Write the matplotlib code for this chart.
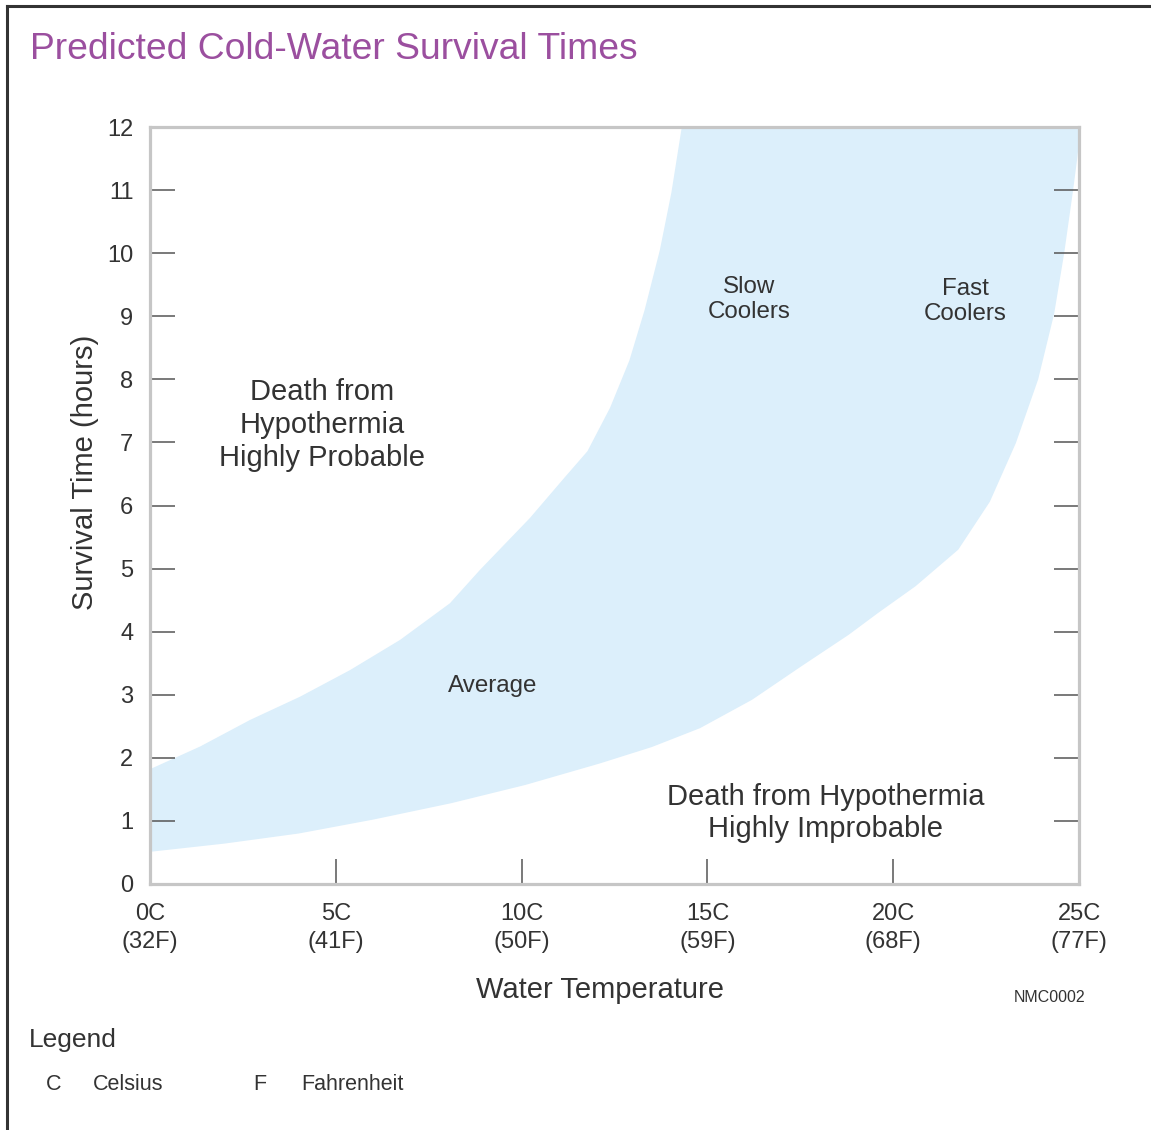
import matplotlib
matplotlib.use("Agg")
import matplotlib.pyplot as plt
from matplotlib.lines import Line2D

plt.rcParams['font.family'] = ['Liberation Sans', 'DejaVu Sans']

# boundary: water temperature (C) vs survival time (hours)
slow_temp = [0, 1.35, 2.69, 4.04, 5.38, 6.73, 8.07, 8.88, 10.22, 11.15, 11.77,
             12.38, 12.90, 13.31, 13.72, 14.03, 14.31]
slow_hours = [1.82, 2.18, 2.60, 2.97, 3.39, 3.87, 4.45, 4.98, 5.80, 6.44, 6.86,
              7.55, 8.30, 9.10, 10.05, 10.96, 12.0]
fast_temp = [0, 2.0, 4.0, 6.0, 8.1, 10.1, 12.1, 13.5, 14.8, 16.2, 17.5, 18.8, 19.6,
             20.6, 21.75, 22.6, 23.3, 23.9, 24.33, 24.6, 24.84, 24.95, 25.0]
fast_hours = [0.51, 0.64, 0.80, 1.02, 1.28, 1.57, 1.91, 2.17, 2.47, 2.92, 3.44, 3.95, 4.30,
              4.72, 5.30, 6.06, 6.99, 8.0, 9.04, 10.0, 11.0, 11.5, 11.75]

x_ticks = [0, 5, 10, 15, 20, 25]
x_labels = ["0C\n(32F)", "5C\n(41F)", "10C\n(50F)", "15C\n(59F)", "20C\n(68F)", "25C\n(77F)"]
y_ticks = list(range(0, 13))

text_col = '#333333'
band_col = '#DCEFFB'
spine_col = '#C6C6C6'
tick_col = '#555555'

fig = plt.figure(figsize=(11.51, 11.30), dpi=100)
ax = fig.add_axes([0.1303, 0.2177, 0.8072, 0.6699])

# band: slow coolers on top, across the top edge, back down along fast coolers
poly_x = slow_temp + [25.0] + fast_temp[::-1]
poly_y = slow_hours + [12.0] + fast_hours[::-1]
ax.fill(poly_x, poly_y, color=band_col, lw=0, zorder=1)

ax.set_xlim(0, 25)
ax.set_ylim(0, 12)

for s in ax.spines.values():
    s.set_color(spine_col)
    s.set_linewidth(2.3)
    s.set_zorder(3)

ax.set_xticks(x_ticks)
ax.set_xticklabels(x_labels, fontsize=17, color=text_col, linespacing=1.3)
ax.set_yticks(y_ticks)
ax.set_yticklabels([str(v) for v in y_ticks], fontsize=17, color=text_col)
ax.tick_params(axis='x', direction='in', length=18, width=1.1, color=tick_col,
               labelcolor=text_col, pad=14)
ax.tick_params(axis='y', direction='in', length=18, width=1.1, color=tick_col,
               labelcolor=text_col, pad=12, left=True, right=True)

# no marks at the ends of either axis
for t in (ax.xaxis.get_major_ticks()[0], ax.xaxis.get_major_ticks()[-1]):
    t.tick1line.set_visible(False)
for t in (ax.yaxis.get_major_ticks()[0], ax.yaxis.get_major_ticks()[-1]):
    t.tick1line.set_visible(False)
    t.tick2line.set_visible(False)

ax.set_xlabel("Water Temperature", fontsize=21, color=text_col, labelpad=17)
ax.xaxis.label.set_x(0.484)
ax.set_ylabel("Survival Time (hours)", fontsize=21, color=text_col, labelpad=6)
ax.yaxis.label.set_y(0.544)

ax.text(4.63, 7.28, "Death from\nHypothermia\nHighly Probable", fontsize=21, color=text_col,
        ha='center', va='center', linespacing=1.22)
ax.text(9.23, 3.14, "Average", fontsize=17.4, color=text_col, ha='center', va='center')
ax.text(16.12, 9.26, "Slow\nCoolers", fontsize=17.4, color=text_col, ha='center', va='center',
        linespacing=1.18)
ax.text(21.93, 9.23, "Fast\nCoolers", fontsize=17.4, color=text_col, ha='center', va='center',
        linespacing=1.18)
ax.text(18.19, 1.13, "Death from Hypothermia\nHighly Improbable", fontsize=21, color=text_col,
        ha='center', va='center', linespacing=1.17)

fig.text(0.026, 0.956, "Predicted Cold-Water Survival Times", fontsize=26.8, color='#9B4F9F',
         ha='left', va='center')
fig.text(0.912, 0.1175, "NMC0002", fontsize=11.5, color=text_col, ha='center', va='center')
fig.text(0.025, 0.080, "Legend", fontsize=19, color=text_col, ha='left', va='center')
fig.text(0.040, 0.040, "C", fontsize=15.5, color=text_col, ha='left', va='center')
fig.text(0.081, 0.040, "Celsius", fontsize=15.5, color=text_col, ha='left', va='center')
fig.text(0.220, 0.040, "F", fontsize=15.5, color=text_col, ha='left', va='center')
fig.text(0.2615, 0.040, "Fahrenheit", fontsize=15.5, color=text_col, ha='left', va='center')

# frame lines along the top and left edges
fig.add_artist(Line2D([0.0061, 0.0061], [0.0, 0.9947], transform=fig.transFigure,
                      color='#333333', lw=2.2))
fig.add_artist(Line2D([0.0061, 1.0], [0.9947, 0.9947], transform=fig.transFigure,
                      color='#333333', lw=2.2))

fig.savefig("out.png", dpi=100)
